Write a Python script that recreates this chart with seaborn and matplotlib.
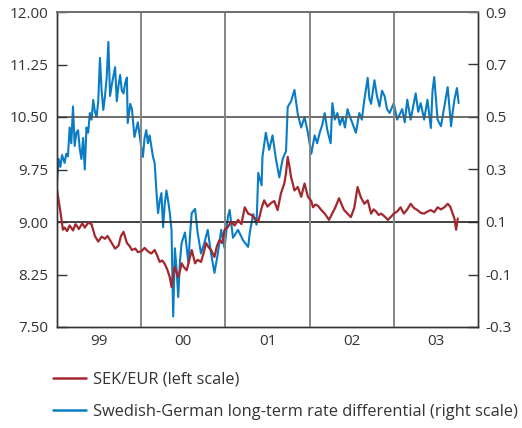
import matplotlib
matplotlib.use("Agg")
import matplotlib.pyplot as plt
import seaborn as sns
import pandas as pd
from matplotlib.lines import Line2D
from matplotlib.ticker import FormatStrFormatter, FixedLocator

# SEK/EUR exchange rate (left scale), time in decimal years
sek_t = [1999.00, 1999.04, 1999.07, 1999.09, 1999.12, 1999.15, 1999.19, 1999.22, 1999.26,
         1999.30, 1999.33, 1999.37, 1999.41, 1999.45, 1999.49, 1999.53, 1999.57, 1999.60,
         1999.63, 1999.66, 1999.69, 1999.73, 1999.76, 1999.79, 1999.83, 1999.86, 1999.89,
         1999.93, 1999.96, 2000.00, 2000.04, 2000.08, 2000.12, 2000.16, 2000.19, 2000.22,
         2000.25, 2000.28, 2000.31, 2000.34, 2000.36, 2000.38, 2000.40, 2000.42, 2000.44,
         2000.46, 2000.48, 2000.51, 2000.54, 2000.57, 2000.60, 2000.64, 2000.67, 2000.71,
         2000.74, 2000.77, 2000.80, 2000.83, 2000.87, 2000.90, 2000.93, 2000.96, 2000.99,
         2001.03, 2001.07, 2001.11, 2001.15, 2001.19, 2001.23, 2001.27, 2001.31, 2001.35,
         2001.39, 2001.43, 2001.46, 2001.50, 2001.54, 2001.58, 2001.62, 2001.66, 2001.70,
         2001.72, 2001.74, 2001.76, 2001.78, 2001.80, 2001.82, 2001.86, 2001.90, 2001.94,
         2001.98, 2002.02, 2002.04, 2002.07, 2002.10, 2002.14, 2002.18, 2002.23, 2002.26,
         2002.29, 2002.32, 2002.35, 2002.38, 2002.41, 2002.45, 2002.49, 2002.53, 2002.57,
         2002.59, 2002.61, 2002.65, 2002.69, 2002.73, 2002.76, 2002.79, 2002.82, 2002.85,
         2002.89, 2002.93, 2002.97, 2003.00, 2003.04, 2003.08, 2003.12, 2003.16, 2003.20,
         2003.24, 2003.28, 2003.32, 2003.36, 2003.40, 2003.44, 2003.48, 2003.52, 2003.56,
         2003.60, 2003.64, 2003.67, 2003.70, 2003.72, 2003.74, 2003.76]
sek_v = [9.46, 9.15, 8.89, 8.92, 8.87, 8.95, 8.88, 8.97, 8.90, 8.98, 8.92, 8.99, 8.97, 8.80,
         8.72, 8.79, 8.76, 8.80, 8.74, 8.68, 8.62, 8.66, 8.80, 8.86, 8.70, 8.66, 8.60, 8.62,
         8.57, 8.58, 8.63, 8.58, 8.55, 8.60, 8.52, 8.43, 8.45, 8.40, 8.32, 8.21, 8.07, 8.25,
         8.36, 8.28, 8.21, 8.30, 8.41, 8.35, 8.31, 8.45, 8.60, 8.41, 8.46, 8.43, 8.55, 8.70,
         8.64, 8.60, 8.50, 8.66, 8.74, 8.70, 8.89, 8.93, 9.00, 8.95, 9.03, 8.97, 9.21, 9.12,
         9.10, 9.05, 9.00, 9.20, 9.31, 9.22, 9.27, 9.30, 9.17, 9.41, 9.55, 9.70, 9.93, 9.80,
         9.64, 9.55, 9.45, 9.50, 9.36, 9.55, 9.36, 9.30, 9.21, 9.25, 9.23, 9.17, 9.12, 9.03,
         9.10, 9.17, 9.25, 9.34, 9.25, 9.17, 9.12, 9.07, 9.20, 9.50, 9.42, 9.35, 9.26, 9.31,
         9.12, 9.18, 9.15, 9.10, 9.12, 9.08, 9.03, 9.08, 9.12, 9.15, 9.21, 9.12, 9.18, 9.26,
         9.20, 9.17, 9.13, 9.12, 9.15, 9.17, 9.14, 9.21, 9.18, 9.21, 9.26, 9.22, 9.12, 9.05,
         8.89, 9.05]

# Swedish-German long-term rate differential (right scale)
diff_t = [1999.00, 1999.02, 1999.04, 1999.06, 1999.09, 1999.11, 1999.13, 1999.15, 1999.17,
          1999.19, 1999.21, 1999.23, 1999.25, 1999.27, 1999.29, 1999.31, 1999.33, 1999.35,
          1999.37, 1999.39, 1999.41, 1999.43, 1999.45, 1999.47, 1999.49, 1999.51, 1999.53,
          1999.55, 1999.57, 1999.59, 1999.61, 1999.63, 1999.66, 1999.69, 1999.71, 1999.73,
          1999.75, 1999.77, 1999.79, 1999.81, 1999.83, 1999.84, 1999.87, 1999.89, 1999.92,
          1999.96, 2000.00, 2000.02, 2000.04, 2000.06, 2000.08, 2000.10, 2000.12, 2000.14,
          2000.16, 2000.18, 2000.20, 2000.22, 2000.24, 2000.26, 2000.28, 2000.30, 2000.32,
          2000.34, 2000.36, 2000.38, 2000.40, 2000.42, 2000.44, 2000.46, 2000.48, 2000.52,
          2000.56, 2000.58, 2000.60, 2000.64, 2000.67, 2000.71, 2000.75, 2000.79, 2000.83,
          2000.87, 2000.91, 2000.95, 2000.99, 2001.03, 2001.05, 2001.09, 2001.15, 2001.21,
          2001.27, 2001.29, 2001.33, 2001.37, 2001.39, 2001.43, 2001.44, 2001.48, 2001.52,
          2001.56, 2001.60, 2001.64, 2001.68, 2001.72, 2001.74, 2001.78, 2001.82, 2001.86,
          2001.90, 2001.94, 2001.98, 2002.02, 2002.06, 2002.09, 2002.12, 2002.15, 2002.18,
          2002.21, 2002.25, 2002.27, 2002.30, 2002.33, 2002.36, 2002.39, 2002.42, 2002.45,
          2002.48, 2002.51, 2002.55, 2002.59, 2002.62, 2002.65, 2002.69, 2002.71, 2002.73,
          2002.77, 2002.80, 2002.83, 2002.86, 2002.89, 2002.92, 2002.95, 2003.00, 2003.04,
          2003.07, 2003.10, 2003.13, 2003.16, 2003.20, 2003.23, 2003.26, 2003.29, 2003.32,
          2003.36, 2003.40, 2003.44, 2003.46, 2003.48, 2003.52, 2003.56, 2003.60, 2003.64,
          2003.68, 2003.70, 2003.72, 2003.75, 2003.77]
diff_v = [0.25, 0.34, 0.31, 0.355, 0.325, 0.36, 0.35, 0.46, 0.40, 0.54, 0.39, 0.44, 0.45,
          0.38, 0.34, 0.42, 0.30, 0.46, 0.44, 0.515, 0.49, 0.565, 0.52, 0.50, 0.56, 0.725,
          0.60, 0.527, 0.58, 0.65, 0.786, 0.58, 0.64, 0.69, 0.56, 0.62, 0.66, 0.60, 0.59,
          0.63, 0.65, 0.477, 0.55, 0.53, 0.424, 0.48, 0.386, 0.348, 0.42, 0.45, 0.40, 0.43,
          0.39, 0.348, 0.325, 0.22, 0.134, 0.18, 0.21, 0.08, 0.17, 0.22, 0.18, 0.134, 0.07,
          -0.26, 0.0, -0.08, -0.186, -0.05, 0.02, 0.06, -0.056, 0.05, 0.134, 0.15, 0.06,
          -0.02, 0.02, 0.07, -0.02, -0.094, -0.02, 0.07, 0.0, 0.12, 0.146, 0.04, 0.07, 0.03,
          0.005, 0.06, 0.13, 0.09, 0.287, 0.24, 0.348, 0.44, 0.375, 0.43, 0.34, 0.27, 0.34,
          0.37, 0.538, 0.56, 0.603, 0.51, 0.46, 0.50, 0.44, 0.36, 0.43, 0.40, 0.44, 0.47,
          0.515, 0.45, 0.40, 0.553, 0.49, 0.515, 0.47, 0.50, 0.46, 0.53, 0.50, 0.475, 0.44,
          0.515, 0.49, 0.565, 0.649, 0.57, 0.55, 0.64, 0.58, 0.54, 0.60, 0.58, 0.53, 0.515,
          0.553, 0.49, 0.51, 0.53, 0.48, 0.566, 0.49, 0.54, 0.59, 0.52, 0.553, 0.49, 0.566,
          0.458, 0.60, 0.652, 0.49, 0.465, 0.54, 0.614, 0.465, 0.52, 0.566, 0.61, 0.553]

year_labels = ["99", "00", "01", "02", "03"]
left_ticks = [7.50, 8.25, 9.00, 9.75, 10.50, 11.25, 12.00]
right_ticks = [-0.3, -0.1, 0.1, 0.3, 0.5, 0.7, 0.9]

red = "#A3282E"
blue = "#0A7CC5"

sns.set_style("white")
plt.rcParams["font.family"] = ["Open Sans", "DejaVu Sans"]
plt.rcParams["font.size"] = 11

sek = pd.DataFrame({"t": sek_t, "v": sek_v})
diff = pd.DataFrame({"t": diff_t, "v": diff_v})

fig = plt.figure(figsize=(5.22, 4.28), dpi=100)
ax = fig.add_axes([57 / 522, 1 - 327 / 428, 421 / 522, 315 / 428])
ax2 = ax.twinx()

sns.lineplot(data=diff, x="t", y="v", ax=ax2, color=blue, linewidth=1.5)
sns.lineplot(data=sek, x="t", y="v", ax=ax, color=red, linewidth=1.6)
ax.set_zorder(ax2.get_zorder() + 1)
ax.patch.set_visible(False)

ax.set_xlim(1999, 2004)
ax.set_ylim(7.5, 12.0)
ax2.set_ylim(-0.3, 0.9)

# year labels centred, gridlines on year boundaries
ax.xaxis.set_major_locator(FixedLocator([1999.5, 2000.5, 2001.5, 2002.5, 2003.5]))
ax.set_xticklabels(year_labels)
ax.xaxis.set_minor_locator(FixedLocator([2000, 2001, 2002, 2003]))
ax.tick_params(axis="x", which="both", length=0, pad=5, colors="#333333")
ax.grid(axis="x", which="minor", color="#858585", linewidth=1.4)

ax.set_yticks(left_ticks)
ax.yaxis.set_major_formatter(FormatStrFormatter("%.2f"))
ax.tick_params(axis="y", direction="in", length=7, width=1, pad=6,
               color="#333333", labelcolor="#333333")
ax2.set_yticks(right_ticks)
ax2.yaxis.set_major_formatter(FormatStrFormatter("%.1f"))
ax2.tick_params(axis="y", direction="in", length=7, width=1, pad=5,
                color="#333333", labelcolor="#333333")

ax.axhline(10.5, color="#555555", linewidth=1.2, zorder=0.5)
ax.axhline(9.0, color="#222222", linewidth=1.2, zorder=0.5)

for a in (ax, ax2):
    a.set_xlabel("")
    a.set_ylabel("")
    for s in ("left", "right", "bottom"):
        a.spines[s].set_color("#333333")
        a.spines[s].set_linewidth(1.0)
    a.spines["top"].set_color("#707070")
    a.spines["top"].set_linewidth(1.4)

handles = [Line2D([0], [0], color=red, linewidth=1.8),
           Line2D([0], [0], color=blue, linewidth=1.8)]
fig.legend(handles, ["SEK/EUR (left scale)",
                     "Swedish-German long-term rate differential (right scale)"],
           loc="upper left", bbox_to_anchor=(53 / 522, 1 - 372 / 428),
           frameon=False, fontsize=11.8, handlelength=2.0, handletextpad=0.45,
           labelspacing=0.95, borderpad=0, borderaxespad=0, labelcolor="#333333")

fig.savefig("out.png", dpi=100)
